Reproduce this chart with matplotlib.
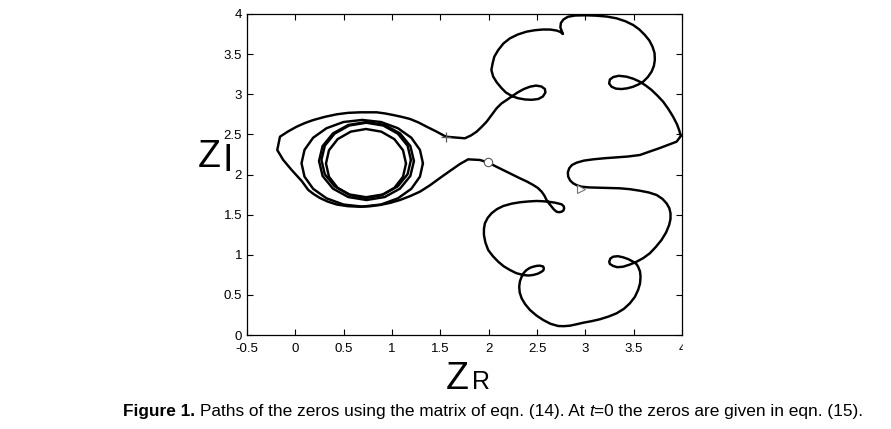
import matplotlib
matplotlib.use('Agg')
import matplotlib.pyplot as plt
from matplotlib.font_manager import fontManager
from matplotlib.patches import Rectangle

# Đường đi chính (vòng kín: từ dấu + qua đám mây phía trên, bên phải, xuống dưới, về o rồi quanh "con mắt")
path_x = [1.558, 1.651, 1.754, 1.816, 1.875, 1.928, 1.979, 2.028, 2.082, 2.132,
          2.186, 2.240, 2.302, 2.364, 2.427, 2.489, 2.545, 2.582, 2.587, 2.561,
          2.514, 2.447, 2.375, 2.302, 2.240, 2.178, 2.132, 2.085, 2.047, 2.028,
          2.041, 2.059, 2.099, 2.152, 2.220, 2.302, 2.392, 2.478, 2.564, 2.639,
          2.703, 2.742, 2.768, 2.742, 2.747, 2.773, 2.819, 2.892, 3.006, 3.116,
          3.223, 3.323, 3.414, 3.495, 3.559, 3.616, 3.662, 3.695, 3.716, 3.719,
          3.709, 3.685, 3.647, 3.598, 3.549, 3.495, 3.435, 3.375, 3.316, 3.271,
          3.246, 3.254, 3.290, 3.347, 3.426, 3.497, 3.564, 3.626, 3.685, 3.745,
          3.805, 3.859, 3.908, 3.947, 3.970, 3.988, 3.944, 3.854, 3.771, 3.667,
          3.564, 3.440, 3.323, 3.202, 3.081, 2.985, 2.909, 2.861, 2.833, 2.819,
          2.823, 2.843, 2.874, 2.913, 2.961, 3.037, 3.116, 3.233, 3.357, 3.461,
          3.564, 3.657, 3.737, 3.797, 3.840, 3.869, 3.881, 3.881, 3.867, 3.835,
          3.788, 3.729, 3.667, 3.600, 3.530, 3.461, 3.391, 3.331, 3.288, 3.254,
          3.247, 3.259, 3.288, 3.337, 3.391, 3.445, 3.495, 3.528, 3.546, 3.566,
          3.571, 3.566, 3.546, 3.512, 3.461, 3.399, 3.323, 3.238, 3.150, 3.063,
          2.978, 2.907, 2.840, 2.778, 2.719, 2.639, 2.564, 2.494, 2.427, 2.378,
          2.341, 2.321, 2.316, 2.323, 2.341, 2.362, 2.392, 2.427, 2.461, 2.499,
          2.530, 2.563, 2.571, 2.566, 2.548, 2.509, 2.461, 2.411, 2.357, 2.287,
          2.220, 2.156, 2.099, 2.044, 1.995, 1.966, 1.951, 1.951, 1.961, 1.990,
          2.030, 2.085, 2.150, 2.235, 2.323, 2.411, 2.496, 2.556, 2.616, 2.685,
          2.754, 2.776, 2.781, 2.773, 2.754, 2.726, 2.703, 2.675, 2.651, 2.623,
          2.599, 2.576, 2.548, 2.509, 2.461, 2.396, 2.323, 2.235, 2.150, 2.070,
          1.995, 1.909, 1.788, 1.703, 1.599, 1.496, 1.392, 1.289, 1.186, 1.082,
          0.979, 0.875, 0.772, 0.669, 0.544, 0.428, 0.332, 0.255, 0.191, 0.134,
          0.066, -0.038, -0.125, -0.187, -0.159, -0.076, 0.014, 0.100, 0.186, 0.307,
          0.428, 0.544, 0.669, 0.841, 0.927, 1.013, 1.098, 1.186, 1.273, 1.358,
          1.460, 1.558]
path_y = [2.471, 2.461, 2.451, 2.486, 2.533, 2.594, 2.658, 2.738, 2.825, 2.885,
          2.928, 2.974, 3.024, 3.065, 3.094, 3.108, 3.097, 3.065, 3.022, 2.972,
          2.941, 2.931, 2.935, 2.951, 2.978, 3.022, 3.078, 3.146, 3.219, 3.302,
          3.386, 3.470, 3.551, 3.632, 3.697, 3.745, 3.780, 3.798, 3.807, 3.806,
          3.794, 3.776, 3.751, 3.832, 3.888, 3.931, 3.965, 3.981, 3.984, 3.979,
          3.968, 3.946, 3.910, 3.863, 3.807, 3.738, 3.670, 3.593, 3.514, 3.427,
          3.352, 3.281, 3.215, 3.156, 3.122, 3.094, 3.074, 3.065, 3.070, 3.094,
          3.134, 3.184, 3.215, 3.230, 3.219, 3.193, 3.156, 3.108, 3.053, 2.984,
          2.907, 2.816, 2.720, 2.629, 2.555, 2.480, 2.409, 2.368, 2.330, 2.287,
          2.243, 2.224, 2.214, 2.203, 2.189, 2.173, 2.147, 2.118, 2.077, 2.025,
          1.973, 1.925, 1.890, 1.865, 1.848, 1.839, 1.836, 1.832, 1.828, 1.817,
          1.798, 1.776, 1.745, 1.697, 1.641, 1.580, 1.517, 1.445, 1.371, 1.277,
          1.184, 1.097, 1.018, 0.959, 0.913, 0.878, 0.851, 0.845, 0.860, 0.885,
          0.913, 0.953, 0.976, 0.982, 0.968, 0.945, 0.913, 0.885, 0.851, 0.791,
          0.726, 0.642, 0.561, 0.474, 0.395, 0.326, 0.270, 0.229, 0.196, 0.172,
          0.153, 0.133, 0.116, 0.110, 0.112, 0.140, 0.187, 0.243, 0.312, 0.383,
          0.457, 0.530, 0.602, 0.667, 0.726, 0.773, 0.810, 0.837, 0.851, 0.862,
          0.864, 0.854, 0.831, 0.806, 0.789, 0.764, 0.748, 0.741, 0.748, 0.770,
          0.810, 0.856, 0.913, 0.982, 1.059, 1.153, 1.246, 1.321, 1.392, 1.460,
          1.517, 1.568, 1.607, 1.636, 1.654, 1.664, 1.670, 1.667, 1.661, 1.649,
          1.629, 1.605, 1.579, 1.551, 1.536, 1.530, 1.536, 1.564, 1.599, 1.641,
          1.682, 1.738, 1.786, 1.832, 1.869, 1.912, 1.953, 2.005, 2.056, 2.103,
          2.150, 2.181, 2.189, 2.131, 2.044, 1.956, 1.865, 1.786, 1.730, 1.682,
          1.646, 1.620, 1.604, 1.598, 1.605, 1.626, 1.664, 1.707, 1.755, 1.807,
          1.919, 2.056, 2.181, 2.305, 2.471, 2.536, 2.596, 2.642, 2.679, 2.719,
          2.750, 2.768, 2.775, 2.775, 2.761, 2.741, 2.719, 2.692, 2.649, 2.596,
          2.535, 2.471]

# Các vòng quanh điểm (0.7, 2.15)
outer_x = [1.320, 1.289, 1.200, 1.061, 0.886, 0.692, 0.498, 0.323, 0.184, 0.095,
           0.064, 0.095, 0.184, 0.323, 0.498, 0.692, 0.886, 1.061, 1.200, 1.289]
outer_y = [2.140, 2.307, 2.458, 2.577, 2.654, 2.680, 2.654, 2.577, 2.458, 2.307,
           2.140, 1.973, 1.822, 1.703, 1.626, 1.600, 1.626, 1.703, 1.822, 1.973]
mid1_x = [1.227, 1.190, 1.083, 0.924, 0.736, 0.548, 0.389, 0.282,
          0.245, 0.282, 0.389, 0.548, 0.736, 0.924, 1.083, 1.190]
mid1_y = [2.168, 2.354, 2.512, 2.617, 2.654, 2.617, 2.512, 2.354,
          2.168, 1.982, 1.824, 1.719, 1.682, 1.719, 1.824, 1.982]
mid2_x = [1.196, 1.161, 1.060, 0.910, 0.733, 0.556, 0.406, 0.305,
          0.270, 0.305, 0.406, 0.556, 0.733, 0.910, 1.060, 1.161]
mid2_y = [2.181, 2.359, 2.509, 2.610, 2.645, 2.610, 2.509, 2.359,
          2.181, 2.003, 1.853, 1.752, 1.717, 1.752, 1.853, 2.003]
inner_x = [1.145, 1.114, 1.024, 0.889, 0.731, 0.573, 0.438, 0.348,
           0.317, 0.348, 0.438, 0.573, 0.731, 0.889, 1.024, 1.114]
inner_y = [2.137, 2.302, 2.441, 2.534, 2.567, 2.534, 2.441, 2.302,
           2.137, 1.972, 1.833, 1.740, 1.707, 1.740, 1.833, 1.972]

# Vị trí các không điểm tại t=0
plus_pt = (1.558, 2.471)
circ_pt = (1.995, 2.150)
tri_pt = (2.951, 1.819)

xticks = [-0.5, 0, 0.5, 1, 1.5, 2, 2.5, 3, 3.5, 4]
xtick_labels = ['-0.5', '0', '0.5', '1', '1.5', '2', '2.5', '3', '3.5', '4']
yticks = [0, 0.5, 1, 1.5, 2, 2.5, 3, 3.5, 4]
ytick_labels = ['0', '0.5', '1', '1.5', '2', '2.5', '3', '3.5', '4']

caption_parts = [('Figure 1.', 'bold', 'normal'),
                 (' ', 'normal', 'normal'),
                 ('Paths of the zeros using the matrix of eqn. (14). At', 'normal', 'normal'),
                 (' ', 'normal', 'normal'),
                 ('t', 'normal', 'italic'),
                 ('=0 the zeros are given in eqn. (15).', 'normal', 'normal')]

names = {f.name for f in fontManager.ttflist}
narrow = 'Liberation Sans Narrow' if 'Liberation Sans Narrow' in names else 'Liberation Sans'
plt.rcParams['font.family'] = ['Liberation Sans', 'DejaVu Sans']

W, H = 891, 429
fig = plt.figure(figsize=(W / 100, H / 100), dpi=100)
ax = fig.add_axes([247 / W, 1 - 335 / H, (682 - 247) / W, (335 - 14) / H])

line_kw = dict(color='black', lw=1.75, solid_joinstyle='round', solid_capstyle='round')
ax.plot(path_x, path_y, **line_kw)
for ex, ey in [(outer_x, outer_y), (mid1_x, mid1_y), (mid2_x, mid2_y), (inner_x, inner_y)]:
    ax.plot(ex + ex[:1], ey + ey[:1], **line_kw)

ax.plot(*plus_pt, marker='+', color='0.35', ms=7, mew=0.9, ls='none')
ax.plot(*circ_pt, marker='o', color='0.35', mfc='white', ms=6, mew=0.8, ls='none')
ax.plot(*tri_pt, marker='>', color='0.45', mfc='white', ms=6, mew=0.8, ls='none')

ax.set_xlim(-0.5, 4)
ax.set_ylim(0, 4)
ax.set_xticks(xticks)
ax.set_xticklabels(xtick_labels, family=narrow)
ax.set_yticks(yticks)
ax.set_yticklabels(ytick_labels, family=narrow)
ax.tick_params(direction='in', top=True, right=True, length=4, width=0.8,
               labelsize=9.5, pad=3.5)
ax.tick_params(axis='x', pad=6)
for s in ax.spines.values():
    s.set_linewidth(0.9)

# che chữ "4" bị cắt ở góc phải dưới như hình gốc
fig.add_artist(Rectangle((683 / W, 1 - 362 / H), 20 / W, 25 / H,
                         transform=fig.transFigure, color='white', zorder=10))

# Nhãn trục
fig.text(446 / W, 1 - 389 / H, 'Z', fontsize=27, ha='left', va='baseline')
fig.text(472 / W, 1 - 389 / H, 'R', fontsize=18, ha='left', va='baseline')
fig.text(198 / W, 1 - 167 / H, 'Z', fontsize=27, ha='left', va='baseline')
fig.text(222 / W, 1 - 171 / H, 'I', fontsize=27, ha='left', va='baseline')

# Chú thích hình: đặt từng đoạn nối tiếp nhau
renderer = fig.canvas.get_renderer()


def draw_caption(fs):
    x = 123.0
    objs = []
    for txt, weight, style in caption_parts:
        if txt == ' ':
            a = fig.text(0, 0, 'x x', fontsize=fs)
            b = fig.text(0, 0, 'xx', fontsize=fs)
            x += a.get_window_extent(renderer).width - b.get_window_extent(renderer).width
            a.remove()
            b.remove()
            continue
        t = fig.text(x / W, 1 - 416 / H, txt, fontsize=fs, fontweight=weight,
                     fontstyle=style, ha='left', va='baseline', family=narrow)
        x = t.get_window_extent(renderer).x1
        objs.append(t)
    return objs, x - 123.0


objs, width = draw_caption(11)
for t in objs:
    t.remove()
draw_caption(11 * 739 / width)

fig.savefig('out.png', dpi=100)
